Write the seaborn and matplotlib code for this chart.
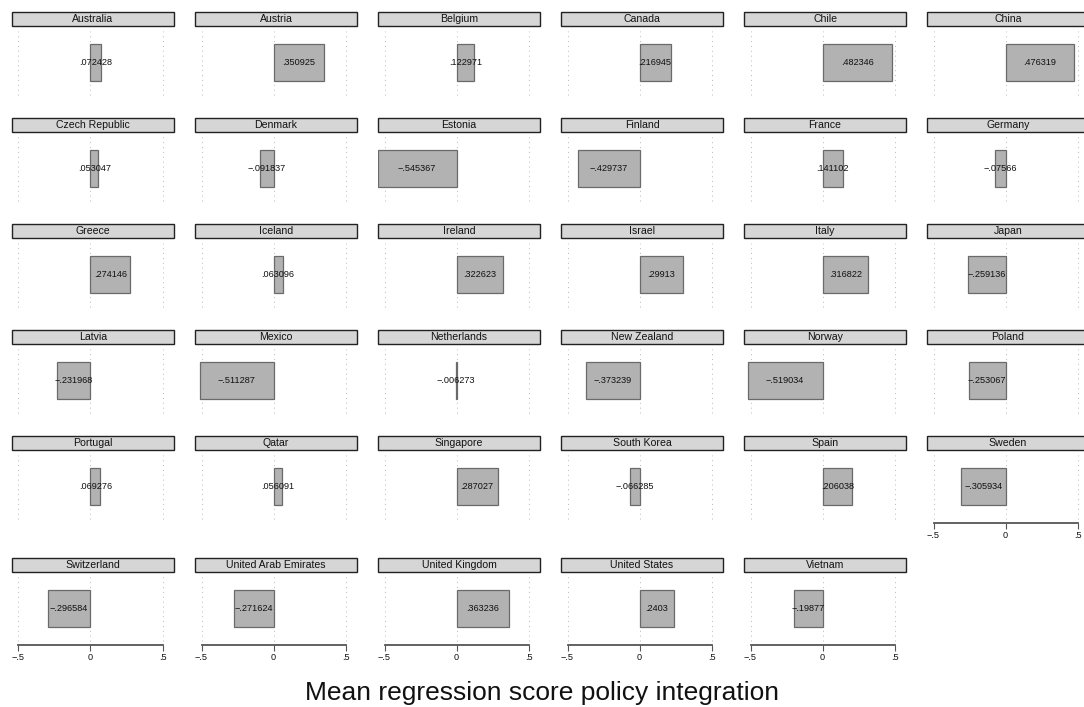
import numpy as np
import pandas as pd
import matplotlib
matplotlib.use("Agg")
import matplotlib.pyplot as plt
from matplotlib.patches import Rectangle
import seaborn as sns

countries = [
    "Australia", "Austria", "Belgium", "Canada", "Chile", "China",
    "Czech Republic", "Denmark", "Estonia", "Finland", "France", "Germany",
    "Greece", "Iceland", "Ireland", "Israel", "Italy", "Japan",
    "Latvia", "Mexico", "Netherlands", "New Zealand", "Norway", "Poland",
    "Portugal", "Qatar", "Singapore", "South Korea", "Spain", "Sweden",
    "Switzerland", "United Arab Emirates", "United Kingdom", "United States", "Vietnam",
]
scores = [
    0.072428, 0.350925, 0.122971, 0.216945, 0.482346, 0.476319,
    0.053047, -0.091837, -0.545367, -0.429737, 0.141102, -0.07566,
    0.274146, 0.063096, 0.322623, 0.29913, 0.316822, -0.259136,
    -0.231968, -0.511287, -0.006273, -0.373239, -0.519034, -0.253067,
    0.069276, 0.056091, 0.287027, -0.066285, 0.206038, -0.305934,
    -0.296584, -0.271624, 0.363236, 0.2403, -0.19877,
]
tick_values = [-0.5, 0, 0.5]
tick_labels = ["\u2212.5", "0", ".5"]
x_title = "Mean regression score policy integration"

df = pd.DataFrame({"country": countries, "score": scores})

sns.set_theme(style="white")
plt.rcParams["font.family"] = ["Liberation Sans", "DejaVu Sans"]

W, H = 1084, 707
fig = plt.figure(figsize=(W / 100, H / 100), dpi=100)

ncols = 6
n = len(countries)
nrows = int(np.ceil(n / ncols))

# panel geometry in pixels
col_x0, col_step, panel_w = 12, 183, 162
row_y0, row_step, last_row_gap = 12, 106, 16
title_h = 14
plot_h = 73               # from strip bottom to the x axis line
bar_px = 37               # bar thickness
bar_gap = 18              # strip bottom to bar top
px_per_unit = 144.0
left_pad = 6.5            # panel edge to -0.5
xlim = (-0.5 - left_pad / px_per_unit, -0.5 + (panel_w - left_pad) / px_per_unit)

bar_fill = "#b2b2b2"
bar_edge = "#6a6a6a"
title_fill = "#d6d6d6"
grid_col = "#b8b8b8"


def fmt(v):
    s = f"{abs(v):.6f}".rstrip("0").rstrip(".")
    if s.startswith("0"):
        s = s[1:]
    return ("\u2212" if v < 0 else "") + s


last_in_col = {}
for i in range(n):
    last_in_col[i % ncols] = i

bar_width = 0.8
unit = bar_px / bar_width
center_px = bar_gap + bar_px / 2.0
ylim = ((plot_h - center_px) / unit, -center_px / unit)

for i, row in df.iterrows():
    r, c = divmod(i, ncols)
    x0 = col_x0 + c * col_step
    top = row_y0 + r * row_step + (last_row_gap if r == nrows - 1 else 0)

    # strip title box
    tax = fig.add_axes([x0 / W, 1 - (top + title_h) / H, panel_w / W, title_h / H])
    tax.set_xlim(0, 1)
    tax.set_ylim(0, 1)
    tax.axis("off")
    tax.add_patch(Rectangle((0, 0), 1, 1, transform=tax.transAxes, facecolor=title_fill,
                            edgecolor="#222222", linewidth=1.0, clip_on=False))
    tax.text(0.5, 0.5, row["country"], ha="center", va="center", fontsize=7.6, color="#111111")

    # plot region
    ax = fig.add_axes([x0 / W, 1 - (top + title_h + plot_h) / H, panel_w / W, plot_h / H])
    sub = df.iloc[[i]]
    sns.barplot(data=sub, x="score", y="country", orient="h", ax=ax, color=bar_fill,
                saturation=1, width=bar_width, edgecolor=bar_edge, linewidth=0.9)
    ax.set_xlim(*xlim)
    ax.set_ylim(*ylim)
    ax.set_ylabel("")
    ax.set_xlabel("")
    ax.set_yticks([])
    for v in tick_values:
        ax.axvline(v, ymin=4 / plot_h, ymax=(plot_h - 5) / plot_h, color=grid_col,
                   linestyle=(0, (1, 4)), linewidth=0.7, zorder=0)
    ax.text(row["score"] / 2, 0, fmt(row["score"]), ha="center", va="center",
            fontsize=6.6, color="#111111", zorder=5)
    for s in ["top", "right", "left"]:
        ax.spines[s].set_visible(False)
    if last_in_col[c] == i:
        ax.spines["bottom"].set_visible(True)
        ax.spines["bottom"].set_color("#555555")
        ax.spines["bottom"].set_linewidth(1.3)
        ax.spines["bottom"].set_bounds(-0.5, 0.5)
        ax.set_xticks(tick_values)
        ax.set_xticklabels(tick_labels)
        ax.tick_params(axis="x", bottom=True, length=4, width=0.8, color="#555555",
                       labelsize=6.6, pad=1.5, labelcolor="#111111")
    else:
        ax.spines["bottom"].set_visible(False)
        ax.set_xticks([])
    ax.patch.set_alpha(0)

fig.text(0.5, 1 - 700 / H, x_title, ha="center", va="baseline", fontsize=19, color="#111111")

fig.savefig("out.png", dpi=100, facecolor="white")
